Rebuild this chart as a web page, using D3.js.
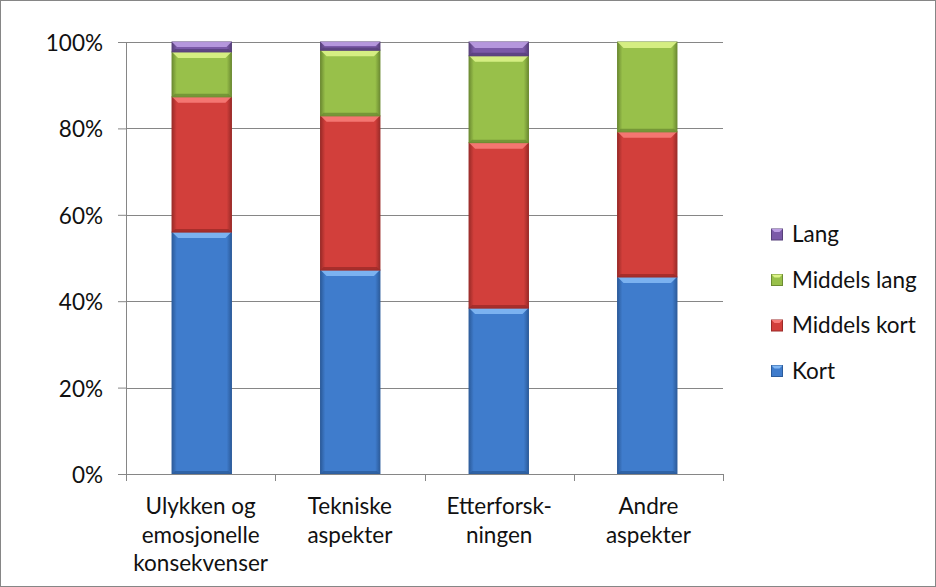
<!DOCTYPE html>
<html>
<head>
<meta charset="utf-8">
<script src="https://cdn.jsdelivr.net/npm/d3@7"></script>
<style>
	body { margin: 0; background: #fff; }
	text { font-family: Lato, "Open Sans", sans-serif; fill: #111; }
</style>
</head>
<body>
<div id="chart"></div>
<script>
// data
var categories = [["Ulykken og", "emosjonelle", "konsekvenser"], ["Tekniske", "aspekter"], ["Etterforsk-", "ningen"], ["Andre", "aspekter"]];
var seriesNames = ["Kort", "Middels kort", "Middels lang", "Lang"];
var kort = [56.0, 47.2, 38.4, 45.6];
var middelsKort = [31.3, 35.7, 38.3, 33.6];
var middelsLang = [10.4, 15.2, 20.1, 20.8];
var lang = [2.3, 1.9, 3.2, 0];
var yTicks = [0, 0.2, 0.4, 0.6, 0.8, 1];

var colors = {
	"Kort": { base: "#3f7ccc", light: "#82b8f4", dark: "#2c5c9c" },
	"Middels kort": { base: "#d23f3b", light: "#f77c78", dark: "#9c2b28" },
	"Middels lang": { base: "#98c04a", light: "#dcf388", dark: "#6d8c32" },
	"Lang": { base: "#7b5aa8", light: "#bb9de2", dark: "#57407a" }
};

var W = 936, H = 587;
var margin = { top: 42, right: 213, bottom: 113, left: 126 };
var width = W - margin.left - margin.right;
var height = H - margin.top - margin.bottom;
var fontSize = "22.5px";

var rows = categories.map(function(c, i) {
	return { cat: i, "Kort": kort[i], "Middels kort": middelsKort[i], "Middels lang": middelsLang[i], "Lang": lang[i] };
});

var svgRoot = d3.select("#chart").append("svg")
	.attr("width", W)
	.attr("height", H);

// outer frame
svgRoot.append("rect")
	.attr("x", 0.5).attr("y", 0.5)
	.attr("width", W - 1).attr("height", H - 1)
	.attr("fill", "#fff")
	.attr("stroke", "#868686");

var defs = svgRoot.append("defs");
seriesNames.forEach(function(s, k) {
	var g = defs.append("linearGradient")
		.attr("id", "grad" + k)
		.attr("x1", "0").attr("x2", "1").attr("y1", "0").attr("y2", "0");
	g.append("stop").attr("offset", "0").attr("stop-color", colors[s].dark);
	g.append("stop").attr("offset", "0.08").attr("stop-color", colors[s].base);
	g.append("stop").attr("offset", "0.92").attr("stop-color", colors[s].base);
	g.append("stop").attr("offset", "1").attr("stop-color", colors[s].dark);
});

var svg = svgRoot.append("g")
	.attr("transform", "translate(" + margin.left + "," + margin.top + ")");

// scales
var x = d3.scaleBand()
	.domain(rows.map(function(d) { return d.cat; }))
	.range([0, width])
	.paddingInner(0.6)
	.paddingOuter(0.31);

var xTick = d3.scaleBand()
	.domain(rows.map(function(d) { return d.cat; }))
	.range([0, width]);

var y = d3.scaleLinear()
	.domain([0, 1])
	.range([height, 0]);

// gridlines
svg.append("g")
	.selectAll("line")
	.data(yTicks.slice(1))
	.enter()
	.append("line")
	.attr("x1", 0).attr("x2", width)
	.attr("y1", function(d) { return Math.round(y(d)) + 0.5; })
	.attr("y2", function(d) { return Math.round(y(d)) + 0.5; })
	.attr("stroke", "#868686");

// stacked bars
var stack = d3.stack().keys(seriesNames);
var stacked = stack(rows.map(function(r) {
	var total = kort[r.cat] + middelsKort[r.cat] + middelsLang[r.cat] + lang[r.cat];
	var o = { cat: r.cat };
	seriesNames.forEach(function(s) { o[s] = r[s] / total; });
	return o;
}));

var bev = 6;
stacked.forEach(function(layer, k) {
	var s = seriesNames[k];
	var g = svg.append("g").attr("class", "series");
	var segs = g.selectAll("g")
		.data(layer.filter(function(d) { return d[1] - d[0] > 0; }))
		.enter()
		.append("g");
	segs.append("rect")
		.attr("x", function(d) { return x(d.data.cat); })
		.attr("y", function(d) { return y(d[1]); })
		.attr("width", x.bandwidth())
		.attr("height", function(d) { return y(d[0]) - y(d[1]); })
		.attr("fill", "url(#grad" + k + ")")
		.attr("stroke", colors[s].dark)
		.attr("stroke-width", 1);
	// top highlight bevel
	segs.append("path")
		.attr("d", function(d) {
			var x0 = x(d.data.cat), x1 = x0 + x.bandwidth();
			var y0 = y(d[1]);
			var b = Math.min(bev, (y(d[0]) - y(d[1])) / 2);
			return "M" + x0 + "," + y0 + "L" + x1 + "," + y0 + "L" + (x1 - b) + "," + (y0 + b) + "L" + (x0 + b) + "," + (y0 + b) + "Z";
		})
		.attr("fill", colors[s].light)
		.attr("opacity", 0.9);
	// bottom shadow bevel
	segs.append("path")
		.attr("d", function(d) {
			var x0 = x(d.data.cat), x1 = x0 + x.bandwidth();
			var y1 = y(d[0]);
			var b = Math.min(bev / 2, (y(d[0]) - y(d[1])) / 3);
			return "M" + x0 + "," + y1 + "L" + x1 + "," + y1 + "L" + (x1 - b) + "," + (y1 - b) + "L" + (x0 + b) + "," + (y1 - b) + "Z";
		})
		.attr("fill", colors[s].dark)
		.attr("opacity", 0.8);
});

// y axis
var yAxis = svg.append("g")
	.attr("class", "y axis")
	.call(d3.axisLeft(y).tickValues(yTicks).tickFormat(d3.format(".0%")).tickSize(8).tickPadding(15));
yAxis.select(".domain").attr("stroke", "#868686");
yAxis.selectAll(".tick line").attr("stroke", "#868686");
yAxis.selectAll(".tick text").style("font-size", fontSize).attr("fill", "#111").attr("dy", "0.38em");

// x axis
var xAxis = svg.append("g")
	.attr("class", "x axis")
	.attr("transform", "translate(0," + height + ")");
xAxis.append("line")
	.attr("x1", 0).attr("x2", width)
	.attr("y1", 0.5).attr("y2", 0.5)
	.attr("stroke", "#868686");
xAxis.selectAll(".xt")
	.data(d3.range(categories.length + 1))
	.enter()
	.append("line")
	.attr("x1", function(i) { return Math.round(i * xTick.bandwidth()) + 0.5; })
	.attr("x2", function(i) { return Math.round(i * xTick.bandwidth()) + 0.5; })
	.attr("y1", 0).attr("y2", 7)
	.attr("stroke", "#868686");
var labels = xAxis.selectAll(".xl")
	.data(rows)
	.enter()
	.append("text")
	.attr("text-anchor", "middle")
	.style("font-size", fontSize)
	.attr("transform", function(d) { return "translate(" + (xTick(d.cat) + xTick.bandwidth() / 2) + ",0)"; });
labels.selectAll("tspan")
	.data(function(d) { return categories[d.cat]; })
	.enter()
	.append("tspan")
	.attr("x", 0)
	.attr("y", function(t, i) { return 40 + i * 28.5; })
	.text(function(t) { return t; });

// legend
var legend = svgRoot.append("g")
	.attr("transform", "translate(771,0)");
var legendItems = legend.selectAll("g")
	.data(seriesNames.slice().reverse())
	.enter()
	.append("g")
	.attr("transform", function(d, i) { return "translate(0," + (234.5 + i * 45.5) + ")"; });
legendItems.append("rect")
	.attr("x", 0.5).attr("y", -5.5)
	.attr("width", 11).attr("height", 11)
	.attr("fill", function(d) { return colors[d].base; })
	.attr("stroke", function(d) { return colors[d].dark; });
legendItems.append("path")
	.attr("d", "M0.5,-5.5L11.5,-5.5L8.5,-2.5L3.5,-2.5Z")
	.attr("fill", function(d) { return colors[d].light; });
legendItems.append("text")
	.attr("x", 21)
	.attr("y", 7.5)
	.style("font-size", fontSize)
	.text(function(d) { return d; });
</script>
</body>
</html>
